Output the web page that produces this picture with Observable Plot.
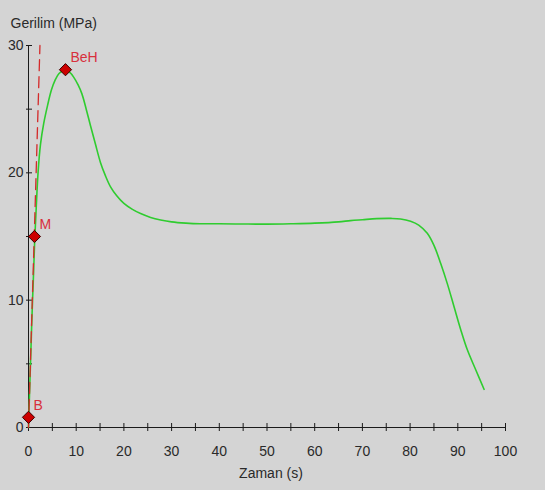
<!DOCTYPE html>
<html>
<head>
<meta charset="utf-8">
<script src="https://cdn.jsdelivr.net/npm/d3@7"></script>
<script src="https://cdn.jsdelivr.net/npm/@observablehq/plot@0.6"></script>
<style>
  html, body { margin: 0; padding: 0; background: #d4d4d4; }
</style>
</head>
<body>
<div id="chart"></div>
<script>
// Green curve: time (s) and stress (MPa)
const time = [0, 0.2, 0.5, 0.8, 1.1, 1.3, 1.6, 2.0, 2.5, 3.2, 4.0, 4.8, 5.6, 6.4, 7.2, 7.8, 8.6, 9.5, 10.4, 11.2, 12.1, 13.0, 14.0, 15.1, 16.1, 17.2, 18.5, 20.0, 21.7, 23.5, 25.6, 27.7, 30, 33, 36, 40, 45, 50, 55, 60, 65, 67.5, 70, 73, 76, 78, 80.1, 81.8, 83.6, 85, 86.4, 87.8, 89.2, 90.6, 92, 93.8, 95.5];
const stress = [0, 2.5, 6, 9.5, 12.5, 14.7, 17.1, 20.0, 22.2, 23.9, 25.3, 26.5, 27.3, 27.8, 28.0, 28.05, 27.9, 27.5, 26.9, 26.2, 25.0, 23.7, 22.3, 20.8, 19.8, 18.9, 18.2, 17.6, 17.15, 16.8, 16.5, 16.3, 16.15, 16.05, 16.0, 16.0, 15.98, 15.97, 16.0, 16.05, 16.15, 16.25, 16.32, 16.4, 16.42, 16.38, 16.2, 15.9, 15.25, 14.3, 12.9, 11.3, 9.5, 7.7, 6.1, 4.5, 3.0];

// Red dashed reference line
const refTime = [0, 2.4];
const refStress = [0, 30];

// Marked points
const pointNames = ["B", "M", "BeH"];
const pointTime = [0, 1.25, 7.75];
const pointStress = [0.8, 15.0, 28.1];

// Axis ticks
const xLabelTicks = [0, 10, 20, 30, 40, 50, 60, 70, 80, 90, 100];
const xMinorTicks = [0, 5, 10, 15, 20, 25, 30, 35, 40, 45, 50, 55, 60, 65, 70, 75, 80, 85, 90, 95, 100];
const yLabelTicks = [0, 10, 20, 30];
const yMinorTicks = [0, 5, 10, 15, 20, 25, 30];

const curve = time.map((t, i) => ({t, s: stress[i]}));
const ref = refTime.map((t, i) => ({t, s: refStress[i]}));
const points = pointNames.map((name, i) => ({name, t: pointTime[i], s: pointStress[i]}));

const chart = Plot.plot({
  width: 545,
  height: 490,
  marginLeft: 28,
  marginRight: 40,
  marginTop: 45,
  marginBottom: 63,
  style: {background: "#d4d4d4", fontFamily: "'Liberation Sans', Arial, sans-serif", fontSize: "14px", color: "#2a2a2a"},
  x: {domain: [0, 100]},
  y: {domain: [0, 30]},
  marks: [
    Plot.ruleY([0], {stroke: "#1a1a1a"}),
    Plot.ruleX([0], {stroke: "#1a1a1a"}),
    Plot.axisX(xMinorTicks, {tickSize: 8, dy: -4, tickFormat: () => "", label: null, stroke: "#1a1a1a"}),
    Plot.axisX(xLabelTicks, {tickSize: 0, tickPadding: 19, label: null, fill: "#2a2a2a"}),
    Plot.axisY(yMinorTicks, {tickSize: 6, dx: 4, tickFormat: () => "", label: null, stroke: "#1a1a1a"}),
    Plot.axisY(yLabelTicks, {tickSize: 0, tickPadding: 5, label: null, fill: "#2a2a2a"}),
    Plot.line(curve, {x: "t", y: "s", stroke: "#2fcc2f", strokeWidth: 1.6, curve: "catmull-rom"}),
    Plot.line(ref, {x: "t", y: "s", stroke: "#d42a2a", strokeWidth: 1.3, strokeDasharray: "11,6"}),
    Plot.dot(points, {x: "t", y: "s", symbol: "diamond2", r: 5.5, fill: "#cc0000", stroke: "#3a0000", strokeWidth: 1}),
    Plot.text(points, {x: "t", y: "s", text: "name", dx: 5, dy: -12, textAnchor: "start", fill: "#d8303c", fontSize: 14}),
    Plot.text(["Gerilim (MPa)"], {frameAnchor: "top-left", dx: -18, dy: -27, textAnchor: "start", fill: "#2a2a2a", fontSize: 14}),
    Plot.text(["Zaman (s)"], {frameAnchor: "bottom", dx: 4, dy: 50, fill: "#2a2a2a", fontSize: 14})
  ]
});
document.getElementById("chart").appendChild(chart);
</script>
</body>
</html>
